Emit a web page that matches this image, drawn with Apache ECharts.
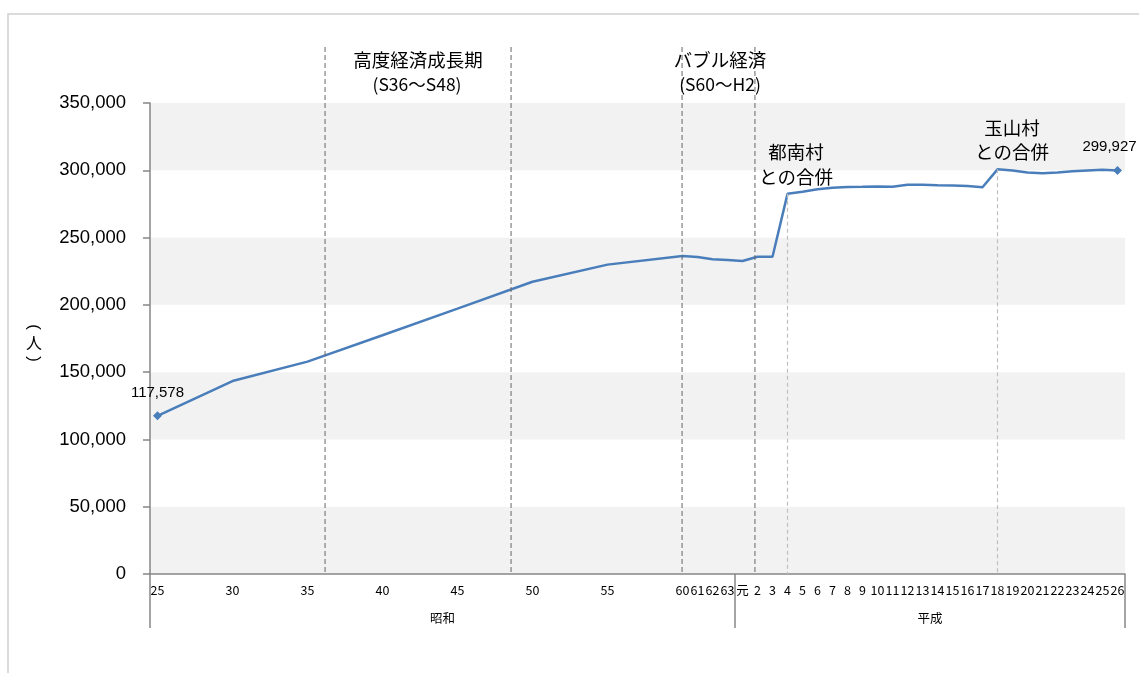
<!DOCTYPE html>
<html>
<head>
<meta charset="utf-8">
<script src="https://cdn.jsdelivr.net/npm/echarts@6/dist/echarts.min.js"></script>
<style>html,body{margin:0;padding:0;background:#fff}#c{width:1139px;height:673px}</style>
</head>
<body>
<div id="c"></div>
<script>
// ---- data ----
const showaYears = [25,26,27,28,29,30,31,32,33,34,35,36,37,38,39,40,41,42,43,44,45,46,47,48,49,50,51,52,53,54,55,56,57,58,59,60,61,62,63];
const showaPop = [117578,null,null,null,null,143400,null,null,null,null,157800,null,null,null,null,177400,null,null,null,null,197200,null,null,null,null,217200,null,null,null,null,229900,null,null,null,null,236300,235600,233900,233300];
const heiseiLabels = ['元','2','3','4','5','6','7','8','9','10','11','12','13','14','15','16','17','18','19','20','21','22','23','24','25','26'];
const heiseiPop = [232600,235800,235800,282500,284000,285900,287100,287600,287700,287900,287700,289200,289200,288900,288700,288300,287400,300700,299900,298400,297800,298300,299300,299900,300400,299927];
const eraNames = ['昭和','平成'];
const yTicks = [0,50000,100000,150000,200000,250000,300000,350000];

// ---- build ----
const categories = showaYears.map(y => 'S' + y).concat(heiseiLabels.map((l, i) => 'H' + (i + 1)));
const tickText = showaYears.map(String).concat(heiseiLabels);
const values = showaPop.concat(heiseiPop);
const nShowa = showaYears.length;
const nAll = categories.length;
const shown = categories.map((c, i) => i >= nShowa || showaYears[i] % 5 === 0 || showaYears[i] >= 60);
const lastIdx = nAll - 1;

const seriesData = values.map((v, i) => {
  if (i === 0 || i === lastIdx) {
    return {
      value: v, symbol: 'diamond', symbolSize: 9,
      label: { show: true, position: 'top', offset: i === 0 ? [0, -6] : [-8, -7],
        formatter: p => p.value.toLocaleString('en-US'),
        fontSize: 15, fontFamily: 'Liberation Sans, Arial, sans-serif', color: '#000' }
    };
  }
  return v;
});

const chart = echarts.init(document.getElementById('c'));
const axisGray = '#868686';
chart.setOption({
  animation: false,
  grid: { left: 150, right: 14, top: 103, bottom: 99, containLabel: false },
  xAxis: [
    {
      type: 'category', data: categories, boundaryGap: true,
      axisLine: { lineStyle: { color: axisGray, width: 1.5 } },
      axisTick: { show: false },
      axisLabel: {
        interval: (idx) => shown[idx],
        formatter: (v, idx) => tickText[categories.indexOf(v)],
        fontSize: 12.5, margin: 10, color: '#000',
        fontFamily: 'Noto Sans CJK JP, sans-serif'
      },
      splitLine: { show: false }
    },
    {
      type: 'value', min: 0, max: nAll, position: 'bottom',
      axisLine: { show: false },
      axisTick: { show: true, customValues: [0, nShowa, nAll], length: 54, lineStyle: { color: axisGray, width: 1.5 } },
      axisLabel: { customValues: [nShowa / 2, nShowa + (nAll - nShowa) / 2], formatter: v => v < nShowa ? eraNames[0] : eraNames[1],
        fontSize: 12.5, margin: 38, color: '#000', fontFamily: 'Noto Sans CJK JP, sans-serif' },
      splitLine: { show: false }
    }
  ],
  yAxis: {
    type: 'value', min: yTicks[0], max: yTicks[yTicks.length - 1], interval: yTicks[1] - yTicks[0],
    axisLine: { show: true, lineStyle: { color: axisGray, width: 1.5 } },
    axisTick: { show: true, length: 7, lineStyle: { color: axisGray, width: 1.5 } },
    axisLabel: { formatter: v => v.toLocaleString('en-US'), fontSize: 18.5, margin: 24, color: '#000',
      fontFamily: 'Liberation Sans, Arial, sans-serif' },
    splitLine: { show: false },
    splitArea: { show: true, areaStyle: { color: ['#f2f2f2', '#ffffff'] } }
  },
  series: [{
    type: 'line', xAxisIndex: 0, yAxisIndex: 0,
    data: seriesData, connectNulls: true,
    symbol: 'none', showAllSymbol: true,
    itemStyle: { color: '#4a7ebb' },
    lineStyle: { color: '#4a7ebb', width: 2.5 },
    markLine: {
      silent: true, symbol: 'none', label: { show: false },
      lineStyle: { color: '#bfbfbf', type: [4, 3], width: 1.2 },
      data: [
        [{ coord: ['H4', heiseiPop[3]] }, { coord: ['H4', 0] }],
        [{ coord: ['H18', heiseiPop[17]] }, { coord: ['H18', 0] }]
      ]
    }
  }]
});

// ---- annotations ----
const px = v => chart.convertToPixel({ xAxisIndex: 1 }, v);
const yBase = chart.convertToPixel({ yAxisIndex: 0 }, 0);
const periodLines = [11.67, 24.07, 35.47, 40.33];
const g = [];
g.push({ type: 'rect', shape: { x: 8, y: 14, width: 1300, height: 800 }, style: { fill: 'none', stroke: '#d0d0d0', lineWidth: 1.5 }, silent: true, z: 0 });
periodLines.forEach(v => {
  const x = px(v);
  g.push({ type: 'line', shape: { x1: x, y1: 47, x2: x, y2: yBase }, style: { stroke: '#666666', lineWidth: 1, lineDash: [5, 3] }, silent: true, z: 5 });
});
const jpFont = 'Noto Sans CJK JP, sans-serif';
const texts = [
  ['高度経済成長期', 418, 60, 18.5], ['(S36～S48)', 417, 84, 17.5],
  ['バブル経済', 720, 60, 18.5], ['(S60～H2)', 720, 84, 17.5],
  ['都南村', 796, 152, 18.5], ['との合併', 796, 177, 18.5],
  ['玉山村', 1012, 128, 18.5], ['との合併', 1012, 152, 18.5]
];
texts.forEach(t => g.push({ type: 'text', x: t[1], y: t[2], z: 10, silent: true,
  style: { text: t[0], fontSize: t[3], fontFamily: jpFont, fill: '#000', align: 'center', verticalAlign: 'middle' } }));
// vertical axis title (人)
g.push({ type: 'text', x: 34, y: 327, rotation: -Math.PI / 2, silent: true, style: { text: '(', fontSize: 17, fontFamily: 'Liberation Sans, sans-serif', fill: '#000', align: 'center', verticalAlign: 'middle' } });
g.push({ type: 'text', x: 34, y: 343, silent: true, style: { text: '人', fontSize: 16, fontFamily: jpFont, fill: '#000', align: 'center', verticalAlign: 'middle' } });
g.push({ type: 'text', x: 34, y: 359, rotation: -Math.PI / 2, silent: true, style: { text: ')', fontSize: 17, fontFamily: 'Liberation Sans, sans-serif', fill: '#000', align: 'center', verticalAlign: 'middle' } });
chart.setOption({ graphic: g });
</script>
</body>
</html>
